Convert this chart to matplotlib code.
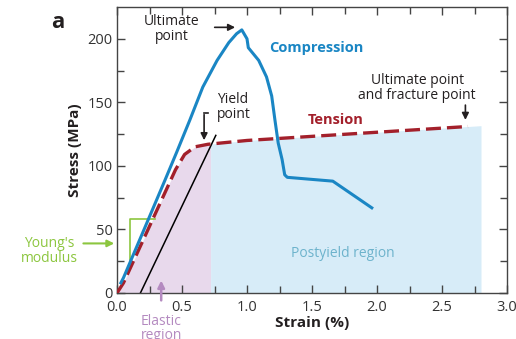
import matplotlib
matplotlib.use("Agg")
import matplotlib.pyplot as plt
import numpy as np

plt.rcParams['font.family'] = ['Open Sans', 'DejaVu Sans']

# Data
comp_strain = [0.03, 0.05, 0.20, 0.37, 0.46, 0.56, 0.66, 0.77, 0.86, 0.92, 0.96, 1.00, 1.01, 1.09, 1.15,
               1.19, 1.215, 1.24, 1.27, 1.29, 1.31, 1.66, 1.96]
comp_stress = [8, 12, 48, 89, 111, 136, 162, 183, 197, 204, 207, 200, 193, 183, 170,
               155, 136, 118, 105, 93, 91, 88, 67]

tens_strain = [0.00, 0.05, 0.45, 0.52, 0.60, 0.70, 1.00, 2.70]
tens_stress = [0, 8, 97, 109, 115, 117, 120, 131]

offset_strain = [0.18, 0.76]
offset_stress = [0, 124]

elastic_limit = 0.72
postyield_end = 2.8

x_ticks = [0.0, 0.5, 1.0, 1.5, 2.0, 2.5, 3.0]
x_ticklabels = ['0.0', '0.5', '1.0', '1.5', '2.0', '2.5', '3.0']
y_ticks = [0, 50, 100, 150, 200]
y_ticklabels = ['0', '50', '100', '150', '200']

blue = '#1a86c4'
red = '#a3202b'
green = '#8cc63f'
purple = '#b48ac0'
teal = '#6db3cc'
dark = '#231f20'

fig = plt.figure(figsize=(5.16, 3.39), dpi=100)
ax = fig.add_axes([117/516, 1-293/339, 390/516, 286/339])

# regions (filled under the tension curve)
xe = np.linspace(0, elastic_limit, 200)
ax.fill_between(xe, 0, np.interp(xe, tens_strain, tens_stress), color='#e8d9ec', lw=0, zorder=0)
xp = np.linspace(elastic_limit, postyield_end, 200)
tx = tens_strain + [postyield_end]
ty = tens_stress + [tens_stress[-1] + (postyield_end - tens_strain[-1]) * (tens_stress[-1]-tens_stress[-2])/(tens_strain[-1]-tens_strain[-2])]
ax.fill_between(xp, 0, np.interp(xp, tx, ty), color='#d7ecf8', lw=0, zorder=0)

ax.plot(offset_strain, offset_stress, color='black', lw=1.1, zorder=2)
ax.plot(tens_strain, tens_stress, color=red, lw=2.4, ls=(0, (4.5, 1.8)), zorder=3)
ax.plot(comp_strain, comp_stress, color=blue, lw=2.2, zorder=4, solid_joinstyle='round')

ax.set_xlim(0, 3.0)
ax.set_ylim(0, 225)
ax.set_xticks(x_ticks)
ax.set_xticklabels(x_ticklabels)
ax.set_yticks(y_ticks)
ax.set_yticklabels(y_ticklabels)
ax.set_xticks(np.arange(0.25, 3.0, 0.5), minor=True)
ax.set_yticks(np.arange(25, 225, 50), minor=True)
ax.tick_params(which='both', direction='in', top=True, right=True, colors='#444444',
               labelcolor='#333333', labelsize=10.5, width=1)
ax.tick_params(which='major', length=6, pad=3)
ax.tick_params(axis='x', which='major', pad=5)
ax.tick_params(which='minor', length=5)
for s in ax.spines.values():
    s.set_color('#444444')
    s.set_linewidth(1)

ax.set_xlabel('Strain (%)', fontsize=11, fontweight='bold', color=dark, labelpad=1)
ax.set_ylabel('Stress (MPa)', fontsize=11, fontweight='bold', color=dark, labelpad=4)

fig.text(58/516, 1-22/339, 'a', fontsize=16, fontweight='bold', color=dark, ha='center', va='center')

# annotations
ax.text(0.42, 208, 'Ultimate\npoint', ha='center', va='center', fontsize=10, color=dark, linespacing=1.0)
ax.annotate('', xy=(0.93, 209), xytext=(0.73, 209),
            arrowprops=dict(arrowstyle='-|>', color=dark, lw=1.2, mutation_scale=10))
ax.text(1.53, 193, 'Compression', ha='center', va='center', fontsize=10.5, fontweight='bold', color=blue)
ax.text(2.31, 161, 'Ultimate point\nand fracture point', ha='center', va='center', fontsize=10, color=dark, linespacing=1.0)
ax.annotate('', xy=(2.68, 134), xytext=(2.68, 150),
            arrowprops=dict(arrowstyle='-|>', color=dark, lw=1.2, mutation_scale=10))
ax.text(1.68, 136, 'Tension', ha='center', va='center', fontsize=10.5, fontweight='bold', color=red)
ax.text(0.77, 146, 'Yield\npoint', ha='left', va='center', fontsize=10, color=dark, linespacing=1.0)
ax.plot([0.67, 0.70], [142, 142], color=dark, lw=1.2)
ax.annotate('', xy=(0.67, 118), xytext=(0.67, 142.5),
            arrowprops=dict(arrowstyle='-|>', color=dark, lw=1.2, mutation_scale=10))
ax.text(1.74, 31, 'Postyield region', ha='center', va='center', fontsize=10, color=teal)

# Young's modulus bracket
ax.plot([0.29, 0.10, 0.10], [58, 58, 26], color=green, lw=1.2, zorder=1)
ax.annotate('', xy=(0.0, 39), xytext=(-0.28, 39), annotation_clip=False,
            arrowprops=dict(arrowstyle='-|>', color=green, lw=1.5, mutation_scale=10))
ax.text(-0.52, 33, "Young's\nmodulus", ha='center', va='center', fontsize=10, color=green,
        linespacing=1.0, clip_on=False)

# Elastic region
ax.annotate('', xy=(0.34, 12), xytext=(0.34, -8), annotation_clip=False,
            arrowprops=dict(arrowstyle='-|>', color=purple, lw=1.8, mutation_scale=10))
ax.text(0.34, -28, 'Elastic\nregion', ha='center', va='center', fontsize=10, color=purple,
        linespacing=0.95, clip_on=False)

fig.savefig('out.png', dpi=100)
